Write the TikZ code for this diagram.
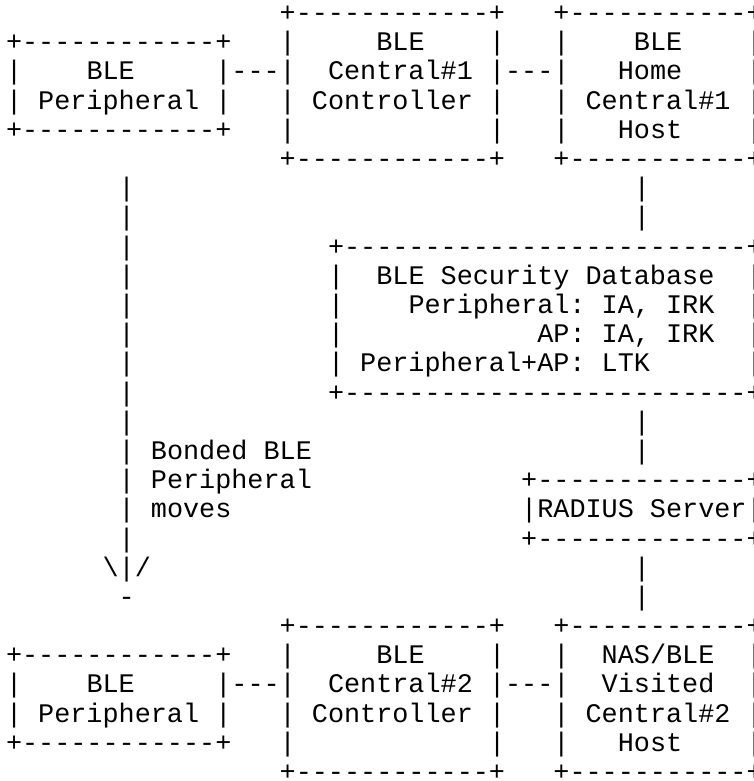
\documentclass[tikz,border=0pt]{standalone}
\usepackage{fontspec}
\setmonofont{Liberation Mono}
\newcommand\asciifont{\ttfamily\fontsize{26.83}{29.19}\selectfont\frenchspacing}

% character cell: column c, row r (baseline of the row)
\newcommand\putc[4]{\node[ch] (#1) at ({6+16.1*(#2)},{-21.6-29.19*(#3)}) {#4};}

% box made of characters: name, left col, top row, bottom row, right col, edge string
\newcommand\asciibox[6]{%
  \putc{#1-top}{#2}{#3}{#6}
  \putc{#1-bot}{#2}{#4}{#6}
  \pgfmathtruncatemacro\abfirst{#3+1}%
  \pgfmathtruncatemacro\ablast{#4-1}%
  \foreach \rowi in {\abfirst,...,\ablast}{%
    \putc{#1-l\rowi}{#2}{\rowi}{|}
    \putc{#1-r\rowi}{#5}{\rowi}{|}
  }%
}

\begin{document}
\begin{tikzpicture}[x=1pt,y=1pt,
  ch/.style={anchor=base west,inner sep=0pt,outer sep=0pt,font=\asciifont,text=black}]
\useasboundingbox (0,0) rectangle (753,-781);

% upper row of boxes
\asciibox{blepA}{0}{1}{4}{13}{+------------+}
\asciibox{cenA}{17}{0}{5}{30}{+------------+}
\asciibox{home}{34}{0}{5}{46}{+-----------+}
\putc{blepA-t1}{5}{2}{BLE}
\putc{blepA-t2}{2}{3}{Peripheral}
\putc{cenA-t1}{23}{1}{BLE}
\putc{cenA-t2}{20}{2}{Central\#1}
\putc{cenA-t3}{19}{3}{Controller}
\putc{home-t1}{39}{1}{BLE}
\putc{home-t2}{38}{2}{Home}
\putc{home-t3}{36}{3}{Central\#1}
\putc{home-t4}{38}{4}{Host}
\putc{linkA1}{14}{2}{---}
\putc{linkA2}{31}{2}{---}

% security database
\asciibox{secdb}{20}{8}{13}{46}{+-------------------------+}
\putc{secdb-t1}{23}{9}{BLE Security Database}
\putc{secdb-t2}{25}{10}{Peripheral: IA, IRK}
\putc{secdb-t3}{33}{11}{AP: IA, IRK}
\putc{secdb-t4}{22}{12}{Peripheral+AP: LTK}

% RADIUS server
\asciibox{radius}{32}{16}{18}{46}{+-------------+}
\putc{radius-t1}{33}{17}{RADIUS Server}

% vertical links on the right
\foreach \rowi in {6,7,14,15,19,20}{\putc{rv\rowi}{39}{\rowi}{|}}

% movement arrow on the left
\foreach \rowi in {6,...,18}{\putc{lv\rowi}{7}{\rowi}{|}}
\putc{move1}{9}{15}{Bonded BLE}
\putc{move2}{9}{16}{Peripheral}
\putc{move3}{9}{17}{moves}
\putc{arrhead}{6}{19}{\textbackslash|/}
\putc{arrtip}{7}{20}{-}

% lower row of boxes
\asciibox{blepB}{0}{22}{25}{13}{+------------+}
\asciibox{cenB}{17}{21}{26}{30}{+------------+}
\asciibox{nas}{34}{21}{26}{46}{+-----------+}
\putc{blepB-t1}{5}{23}{BLE}
\putc{blepB-t2}{2}{24}{Peripheral}
\putc{cenB-t1}{23}{22}{BLE}
\putc{cenB-t2}{20}{23}{Central\#2}
\putc{cenB-t3}{19}{24}{Controller}
\putc{nas-t1}{37}{22}{NAS/BLE}
\putc{nas-t2}{37}{23}{Visited}
\putc{nas-t3}{36}{24}{Central\#2}
\putc{nas-t4}{38}{25}{Host}
\putc{linkB1}{14}{23}{---}
\putc{linkB2}{31}{23}{---}
\end{tikzpicture}
\end{document}
